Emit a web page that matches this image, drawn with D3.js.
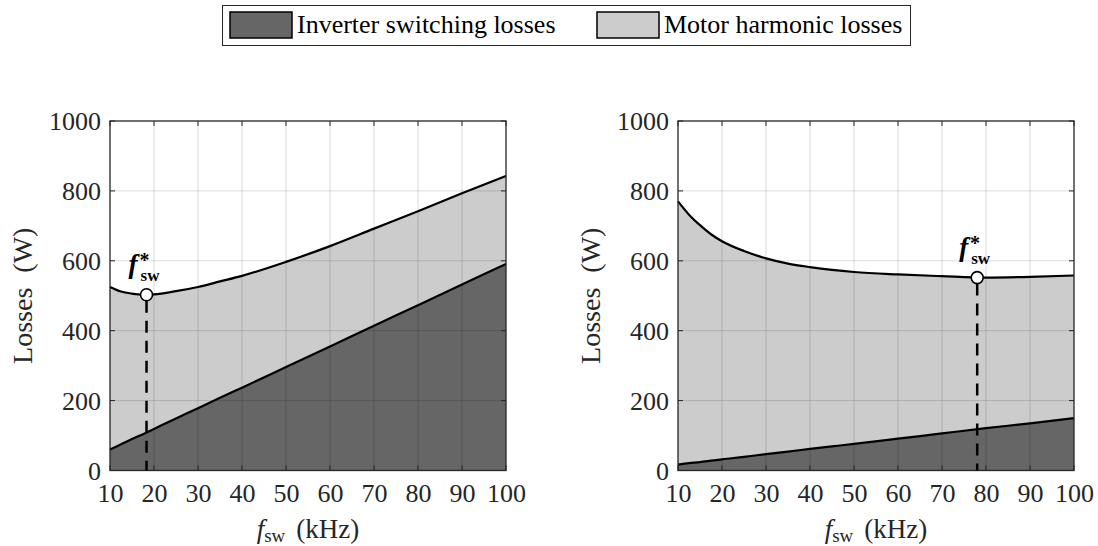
<!DOCTYPE html>
<html>
<head>
<meta charset="utf-8">
<script src="https://cdn.jsdelivr.net/npm/d3@7"></script>
<style>
  html, body { margin: 0; padding: 0; background: #fff; }
  svg { display: block; font-family: "Liberation Serif", "DejaVu Serif", serif; }
</style>
</head>
<body>
<svg id="chart" width="1098" height="546"></svg>
<script>
// ---- Data -----------------------------------------------------------------
// Left case: losses vs switching frequency (kHz, W)
const freqLeft      = [10, 12.5, 15, 17.5, 20, 25, 30, 35, 40, 50, 60, 70, 80, 90, 100];
const switchingLeft = [60, 75, 90, 104, 119, 149, 178, 208, 237, 296, 355, 414, 473, 532, 591];
const harmonicLeft  = [465, 437, 416, 399, 385, 364, 347, 333, 320, 301, 287, 278, 269, 261, 252];

// Right case
const freqRight      = [10, 12.5, 15, 17.5, 20, 25, 30, 35, 40, 45, 50, 60, 70, 80, 90, 100];
const switchingRight = [17, 21, 24, 28, 32, 39, 47, 54, 62, 69, 76, 91, 106, 121, 135, 150];
const harmonicRight  = [753, 711, 678, 648, 624, 589, 560, 538, 520, 505, 492, 470, 450, 431, 419, 408];

// Optimal switching frequency and the corresponding total loss
const optFreq = [18.3, 78];
const optLoss = [503, 552];

const seriesNames = ["Inverter switching losses", "Motor harmonic losses"];
const xTicks = [10, 20, 30, 40, 50, 60, 70, 80, 90, 100];
const yTicks = [0, 200, 400, 600, 800, 1000];
const xLabelMain = "f", xLabelSub = "sw", xLabelUnit = "(kHz)";
const yLabel = "Losses (W)";

// ---- Styling --------------------------------------------------------------
const colors = ["#666666", "#cccccc"];
const axisColor = "#262626";
const svg = d3.select("#chart");

const panels = [
  { x0: 110, x1: 506, freq: freqLeft, sw: switchingLeft, hm: harmonicLeft, k: 0 },
  { x0: 678, x1: 1074, freq: freqRight, sw: switchingRight, hm: harmonicRight, k: 1 }
];
const yTop = 121, yBot = 470.5;

panels.forEach(p => {
  const x = d3.scaleLinear().domain([10, 100]).range([p.x0, p.x1]);
  const y = d3.scaleLinear().domain([0, 1000]).range([yBot, yTop]);
  const g = svg.append("g");

  const rows = p.freq.map((f, i) => ({ f, a: p.sw[i], b: p.hm[i] }));
  const stacked = d3.stack().keys(["a", "b"])(rows);

  const area = d3.area()
    .x(d => x(d.data.f)).y0(d => y(d[0])).y1(d => y(d[1]))
    .curve(d3.curveMonotoneX);

  g.selectAll("path.layer").data(stacked).join("path")
    .attr("class", "layer")
    .attr("d", area)
    .attr("fill", (d, i) => colors[i]);

  // grid drawn over the filled areas
  g.append("g").selectAll("line").data(xTicks.slice(1, -1)).join("line")
    .attr("x1", d => x(d)).attr("x2", d => x(d))
    .attr("y1", yTop).attr("y2", yBot)
    .attr("stroke", "#000").attr("stroke-opacity", 0.14).attr("stroke-width", 1);
  g.append("g").selectAll("line").data(yTicks.slice(1, -1)).join("line")
    .attr("x1", p.x0).attr("x2", p.x1)
    .attr("y1", d => y(d)).attr("y2", d => y(d))
    .attr("stroke", "#000").attr("stroke-opacity", 0.14).attr("stroke-width", 1);

  // boundary curves
  const line = d3.line().x(d => x(d.data.f)).y(d => y(d[1])).curve(d3.curveMonotoneX);
  stacked.forEach(layer => {
    g.append("path").attr("d", line(layer))
      .attr("fill", "none").attr("stroke", "#000").attr("stroke-width", 2.2);
  });

  // axes with inward ticks on all four sides
  const ax = d3.axisBottom(x).tickValues(xTicks).tickSize(0).tickPadding(0).tickFormat(d3.format("d"));
  const gx = g.append("g").attr("transform", `translate(0,${yBot})`).call(ax);
  gx.select(".domain").remove();
  gx.selectAll("text").attr("y", 31).attr("dy", 0)
    .attr("font-size", 26).attr("fill", axisColor)
    .attr("font-family", "Liberation Serif, serif");

  const ay = d3.axisLeft(y).tickValues(yTicks).tickSize(0).tickPadding(0).tickFormat(d3.format("d"));
  const gy = g.append("g").attr("transform", `translate(${p.x0},0)`).call(ay);
  gy.select(".domain").remove();
  gy.selectAll("text").attr("x", -9).attr("dy", "0.34em")
    .attr("font-size", 26).attr("fill", axisColor)
    .attr("font-family", "Liberation Serif, serif");

  const tickLen = 5;
  const tk = g.append("g").attr("stroke", axisColor).attr("stroke-width", 1);
  xTicks.forEach(t => {
    tk.append("line").attr("x1", x(t)).attr("x2", x(t)).attr("y1", yBot).attr("y2", yBot - tickLen);
    tk.append("line").attr("x1", x(t)).attr("x2", x(t)).attr("y1", yTop).attr("y2", yTop + tickLen);
  });
  yTicks.forEach(t => {
    tk.append("line").attr("x1", p.x0).attr("x2", p.x0 + tickLen).attr("y1", y(t)).attr("y2", y(t));
    tk.append("line").attr("x1", p.x1).attr("x2", p.x1 - tickLen).attr("y1", y(t)).attr("y2", y(t));
  });
  g.append("rect").attr("x", p.x0).attr("y", yTop)
    .attr("width", p.x1 - p.x0).attr("height", yBot - yTop)
    .attr("fill", "none").attr("stroke", axisColor).attr("stroke-width", 1.3);

  // optimum marker
  const px = x(optFreq[p.k]), py = y(optLoss[p.k]);
  g.append("line").attr("x1", px).attr("x2", px).attr("y1", py + 6).attr("y2", yBot)
    .attr("stroke", "#000").attr("stroke-width", 2.5).attr("stroke-dasharray", "12,8");
  g.append("circle").attr("cx", px).attr("cy", py).attr("r", 6)
    .attr("fill", "#fff").attr("stroke", "#000").attr("stroke-width", 1.6);
  // f*_sw: base letter, subscript, and the star set just above the subscript
  const lab = g.append("text").attr("x", px - 18).attr("y", py - 22)
    .attr("font-weight", "bold").attr("fill", "#000");
  lab.append("tspan").attr("font-size", 27).attr("font-style", "italic").text("f");
  lab.append("tspan").attr("font-size", 17).attr("dx", 3).attr("dy", 8).text("sw");
  lab.append("tspan").attr("font-size", 20).attr("dx", -20).attr("dy", -14).text("*");

  // axis titles
  const cx = (p.x0 + p.x1) / 2;
  const xt = g.append("text").attr("x", cx).attr("y", 538)
    .attr("text-anchor", "middle").attr("font-size", 27).attr("fill", axisColor);
  xt.append("tspan").attr("font-style", "italic").text(xLabelMain);
  xt.append("tspan").attr("font-size", 19).attr("dy", 4).text(xLabelSub);
  xt.append("tspan").attr("dy", -4).attr("dx", 11).text(xLabelUnit);

  const cy = (yTop + yBot) / 2;
  g.append("text").attr("transform", `translate(${p.x0 - 78},${cy}) rotate(-90)`)
    .attr("text-anchor", "middle").attr("font-size", 28).attr("fill", axisColor)
    .attr("word-spacing", 8).text(yLabel);
});

// ---- Legend ---------------------------------------------------------------
const lg = svg.append("g");
lg.append("rect").attr("x", 222.5).attr("y", 5.5).attr("width", 688).attr("height", 40)
  .attr("fill", "#fff").attr("stroke", axisColor).attr("stroke-width", 1);
const legendX = [230, 597];
seriesNames.forEach((name, i) => {
  lg.append("rect").attr("x", legendX[i]).attr("y", 12).attr("width", 62).attr("height", 26)
    .attr("fill", colors[i]).attr("stroke", "#000").attr("stroke-width", 1.5);
  lg.append("text").attr("x", legendX[i] + 67).attr("y", 33)
    .attr("font-size", 26).attr("fill", "#000").text(name);
});
</script>
</body>
</html>
